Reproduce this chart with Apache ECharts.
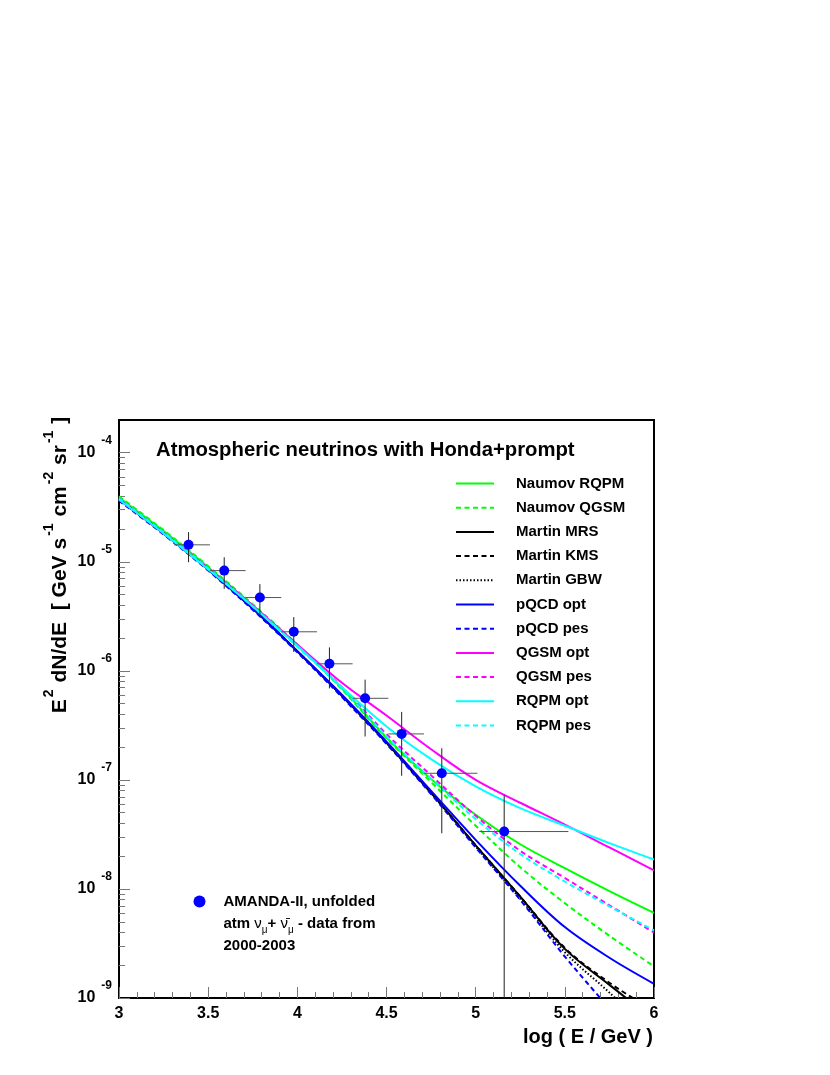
<!DOCTYPE html>
<html><head><meta charset="utf-8">
<script src="https://cdn.jsdelivr.net/npm/echarts@6/dist/echarts.min.js"></script>
<style>html,body{margin:0;padding:0;background:#fff}#c{width:830px;height:1075px}</style>
</head><body><div id="c"></div>
<script>
// x grid (log10 E/GeV) at which curves were read
const logE = [3.0, 3.25, 3.5, 3.75, 4.0, 4.25, 4.5, 4.75, 5.0, 5.25, 5.5, 5.75, 6.0];
// E^2 dN/dE [GeV s^-1 cm^-2 sr^-1]
const naumovRQPM = [3.89e-5, 1.91e-5, 8.91e-6, 3.98e-6, 1.70e-6, 6.92e-7, 2.45e-7, 1.02e-7, 4.79e-8, 2.57e-8, 1.55e-8, 9.55e-9, 6.03e-9];
const naumovQGSM = [3.98e-5, 1.95e-5, 9.12e-6, 4.07e-6, 1.74e-6, 6.76e-7, 2.40e-7, 9.55e-8, 3.80e-8, 1.58e-8, 7.41e-9, 3.72e-9, 1.95e-9];
const martinMRS  = [3.72e-5, 1.82e-5, 8.51e-6, 3.72e-6, 1.51e-6, 5.89e-7, 2.19e-7, 7.59e-8, 2.51e-8, 8.51e-9, 2.82e-9, 1.32e-9, 6.31e-10];
const martinKMS  = [3.72e-5, 1.82e-5, 8.51e-6, 3.72e-6, 1.51e-6, 5.89e-7, 2.19e-7, 7.59e-8, 2.51e-8, 8.51e-9, 2.88e-9, 1.38e-9, 7.59e-10];
const martinGBW  = [3.72e-5, 1.82e-5, 8.51e-6, 3.72e-6, 1.51e-6, 5.89e-7, 2.19e-7, 7.59e-8, 2.45e-8, 8.13e-9, 2.63e-9, 1.12e-9, 4.47e-10];
const pqcdOpt    = [3.72e-5, 1.82e-5, 8.51e-6, 3.72e-6, 1.51e-6, 6.03e-7, 2.24e-7, 7.94e-8, 2.82e-8, 1.07e-8, 4.47e-9, 2.34e-9, 1.35e-9];
const pqcdPes    = [3.63e-5, 1.78e-5, 8.32e-6, 3.63e-6, 1.48e-6, 5.75e-7, 2.14e-7, 7.41e-8, 2.40e-8, 7.94e-9, 2.40e-9, 7.94e-10, 2.51e-10];
const qgsmOpt    = [3.72e-5, 1.82e-5, 8.71e-6, 3.98e-6, 1.74e-6, 7.76e-7, 3.89e-7, 1.91e-7, 1.00e-7, 6.17e-8, 3.89e-8, 2.40e-8, 1.48e-8];
const qgsmPes    = [3.80e-5, 1.86e-5, 8.71e-6, 3.89e-6, 1.70e-6, 7.08e-7, 2.63e-7, 1.10e-7, 4.68e-8, 2.24e-8, 1.26e-8, 7.08e-9, 3.98e-9];
const rqpmOpt    = [3.72e-5, 1.82e-5, 8.51e-6, 3.89e-6, 1.70e-6, 7.08e-7, 3.09e-7, 1.55e-7, 8.71e-8, 5.50e-8, 3.80e-8, 2.63e-8, 1.86e-8];
const rqpmPes    = [3.80e-5, 1.86e-5, 8.71e-6, 3.89e-6, 1.66e-6, 6.92e-7, 2.51e-7, 1.02e-7, 4.37e-8, 2.09e-8, 1.17e-8, 6.92e-9, 4.17e-9];

// AMANDA-II unfolded data points
const dataX   = [3.39, 3.59, 3.79, 3.98, 4.18, 4.38, 4.585, 4.81, 5.16];
const dataY   = [1.43e-5, 8.3e-6, 4.7e-6, 2.28e-6, 1.16e-6, 5.6e-7, 2.64e-7, 1.15e-7, 3.36e-8];
const dataXlo = [3.31, 3.51, 3.71, 3.91, 4.11, 4.31, 4.51, 4.71, 5.02];
const dataXhi = [3.51, 3.71, 3.91, 4.11, 4.31, 4.51, 4.71, 5.01, 5.52];
const dataYlo = [9.9e-6, 5.65e-6, 3.15e-6, 1.49e-6, 6.9e-7, 2.5e-7, 1.09e-7, 3.24e-8, 1e-10];
const dataYhi = [1.87e-5, 1.10e-5, 6.24e-6, 3.11e-6, 1.64e-6, 8.3e-7, 4.2e-7, 1.95e-7, 7.27e-8];

const yDecades = [-9, -8, -7, -6, -5, -4];

const Y_MIN = -9, Y_MAX = -3.7;
const F = "'Liberation Sans', Arial, Helvetica, sans-serif";
const DASH = [5, 3.5], DOT = [1.5, 2];

const models = [
  { name: 'Naumov RQPM', vals: naumovRQPM, color: '#00ff00', type: 'solid' },
  { name: 'Naumov QGSM', vals: naumovQGSM, color: '#00ff00', type: DASH },
  { name: 'Martin MRS',  vals: martinMRS,  color: '#000000', type: 'solid' },
  { name: 'Martin KMS',  vals: martinKMS,  color: '#000000', type: DASH },
  { name: 'Martin GBW',  vals: martinGBW,  color: '#000000', type: DOT },
  { name: 'pQCD opt',    vals: pqcdOpt,    color: '#0000ff', type: 'solid' },
  { name: 'pQCD pes',    vals: pqcdPes,    color: '#0000ff', type: DASH },
  { name: 'QGSM opt',    vals: qgsmOpt,    color: '#ff00ff', type: 'solid' },
  { name: 'QGSM pes',    vals: qgsmPes,    color: '#ff00ff', type: DASH },
  { name: 'RQPM opt',    vals: rqpmOpt,    color: '#00ffff', type: 'solid' },
  { name: 'RQPM pes',    vals: rqpmPes,    color: '#00ffff', type: DASH }
];

// log-axis minor tick positions (2..9 x 10^n)
const minorY = [];
yDecades.forEach(n => { for (let k = 2; k <= 9; k++) { const v = n + Math.log10(k); if (v < Y_MAX - 0.003) minorY.push(v); } });

const lineSeries = models.map(m => ({
  type: 'line', name: m.name,
  data: logE.map((x, i) => [x, Math.log10(m.vals[i])]),
  symbol: 'none', smooth: 0.35, clip: true, z: 2,
  lineStyle: { color: m.color, width: 2, type: m.type },
  itemStyle: { color: m.color }
}));

const errSeries = {
  type: 'custom', name: 'err', silent: true, z: 3, clip: true,
  data: dataX.map((x, i) => [x, Math.log10(dataY[i]), dataXlo[i], dataXhi[i], Math.log10(dataYlo[i]), Math.log10(dataYhi[i])]),
  encode: { x: 0, y: 1 },
  renderItem: function (params, api) {
    const y = api.value(1);
    const pc = api.coord([api.value(0), y]);
    const pl = api.coord([api.value(2), y]);
    const pr = api.coord([api.value(3), y]);
    const pb = api.coord([api.value(0), Math.max(api.value(4), Y_MIN)]);
    const pt = api.coord([api.value(0), api.value(5)]);
    return { type: 'group', children: [
      { type: 'line', shape: { x1: pl[0], y1: pl[1], x2: pr[0], y2: pr[1] }, style: { stroke: '#555', lineWidth: 1 } },
      { type: 'line', shape: { x1: pc[0], y1: pb[1], x2: pc[0], y2: pt[1] }, style: { stroke: '#222', lineWidth: 1 } }
    ]};
  }
};

const pointSeries = {
  type: 'scatter', name: 'AMANDA-II, unfolded', z: 5,
  data: dataX.map((x, i) => [x, Math.log10(dataY[i])]),
  symbol: 'circle', symbolSize: 10,
  itemStyle: { color: '#0000ff', opacity: 1 }
};

const chart = echarts.init(document.getElementById('c'), null, { renderer: 'canvas' });
chart.setOption({
  animation: false,
  backgroundColor: '#fff',
  grid: { left: 119, right: 176, top: 420, bottom: 77, show: true, borderColor: '#000', borderWidth: 2, backgroundColor: 'transparent' },
  xAxis: {
    type: 'value', min: 3, max: 6, interval: 0.5,
    axisLine: { show: true, lineStyle: { color: '#000', width: 2 } },
    axisTick: { show: true, inside: true, length: 11, lineStyle: { color: '#777', width: 1 } },
    minorTick: { show: true, splitNumber: 5, length: 6, lineStyle: { color: '#777', width: 1 } },
    splitLine: { show: false }, minorSplitLine: { show: false },
    axisLabel: { margin: 8, fontSize: 16, fontWeight: 'bold', fontFamily: F, color: '#000' }
  },
  yAxis: [
    {
      type: 'value', min: Y_MIN, max: Y_MAX, position: 'left',
      axisLine: { show: true, lineStyle: { color: '#000', width: 2 } },
      axisTick: { show: true, inside: true, length: 11, customValues: yDecades, lineStyle: { color: '#777', width: 1 } },
      splitLine: { show: false },
      axisLabel: {
        customValues: yDecades, margin: 7,
        formatter: v => '{b|10}{s|' + Math.round(v) + '}',
        rich: {
          b: { fontSize: 16, fontWeight: 'bold', fontFamily: F, color: '#000', lineHeight: 36 },
          s: { fontSize: 12, fontWeight: 'bold', fontFamily: F, color: '#000', verticalAlign: 'top', lineHeight: 12, padding: [0, 0, 0, 6] }
        }
      }
    },
    {
      type: 'value', min: Y_MIN, max: Y_MAX, position: 'left', offset: 0,
      axisLine: { show: false },
      axisTick: { show: true, inside: true, length: 6, customValues: minorY, lineStyle: { color: '#777', width: 1 } },
      axisLabel: { show: false }, splitLine: { show: false }
    }
  ],
  legend: [
    {
      data: models.map(m => m.name), orient: 'vertical', left: 455, top: 476, padding: 0,
      itemWidth: 38, itemHeight: 14, itemGap: 9.2, selectedMode: false,
      itemStyle: { color: 'rgba(0,0,0,0)', borderWidth: 0, borderColor: 'rgba(0,0,0,0)' },
      textStyle: { fontSize: 15, fontWeight: 'bold', fontFamily: F, color: '#000', lineHeight: 14, padding: [0, 0, 0, 17] }
    },
    {
      data: ['AMANDA-II, unfolded'], orient: 'vertical', left: 193.5, top: 894.7, padding: 0,
      itemWidth: 12, itemHeight: 12, selectedMode: false,
      formatter: () => '{t|AMANDA-II, unfolded}\n{t|atm }{g|ν}{sub|μ}{t|+ }{g|ν̄}{sub|μ}{t| - data from}\n{t|2000-2003}',
      textStyle: {
        padding: [45, 0, 0, 13],
        rich: {
          t: { fontSize: 15, fontWeight: 'bold', fontFamily: F, color: '#000', lineHeight: 21.7 },
          g: { fontSize: 15, fontFamily: F, color: '#000', lineHeight: 21.7 },
          sub: { fontSize: 10, fontFamily: F, color: '#000', verticalAlign: 'bottom', lineHeight: 10 }
        }
      }
    }
  ],
  graphic: [
    { type: 'text', x: 156, y: 450, style: { text: 'Atmospheric neutrinos with Honda+prompt', font: 'bold 20.3px ' + F, fill: '#000', align: 'left', verticalAlign: 'middle' } },
    { type: 'text', x: 653, y: 1037, style: { text: 'log ( E / GeV )', font: 'bold 20px ' + F, fill: '#000', align: 'right', verticalAlign: 'middle' } },
    { type: 'text', x: 60.5, y: 565, rotation: Math.PI / 2, style: {
        text: '{t|E}{s|2}{t| dN/dE  [ GeV s}{s|-1}{t| cm}{s|-2}{t| sr}{s|-1}{t| ]}',
        align: 'center', verticalAlign: 'middle', fill: '#000',
        rich: {
          t: { font: 'bold 21px ' + F, fill: '#000', lineHeight: 36 },
          s: { font: 'bold 14px ' + F, fill: '#000', verticalAlign: 'top', lineHeight: 14, padding: [0, 1, 0, 2] }
        }
    } }
  ],
  series: [...lineSeries, errSeries, pointSeries]
});
</script></body></html>
